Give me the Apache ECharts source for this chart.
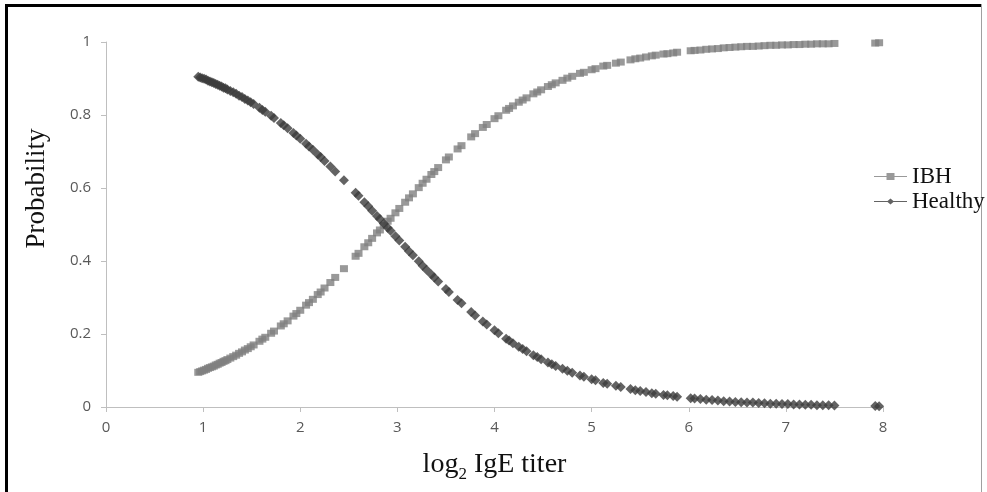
<!DOCTYPE html>
<html>
<head>
<meta charset="utf-8">
<script src="https://cdn.jsdelivr.net/npm/echarts@6/dist/echarts.min.js"></script>
<style>
  html, body { margin: 0; padding: 0; background: #fff; }
  #chart { width: 987px; height: 492px; }
</style>
</head>
<body>
<div id="chart"></div>
<script>
// log2 IgE titer of each observation
const titer = [
  0.95, 0.97, 0.99, 1.01, 1.03, 1.05, 1.07, 1.09, 1.11, 1.13, 1.15, 1.17, 1.19, 1.21, 1.23, 1.25,
  1.28, 1.31, 1.34, 1.37, 1.40, 1.43, 1.46, 1.49, 1.52, 1.58, 1.61, 1.64, 1.70, 1.73, 1.80, 1.83,
  1.87, 1.93, 1.96, 2.00, 2.06, 2.09, 2.13, 2.18, 2.21, 2.25, 2.31, 2.36, 2.45, 2.57, 2.60, 2.66,
  2.70, 2.74, 2.79, 2.82, 2.86, 2.90, 2.93, 2.98, 3.02, 3.08, 3.12, 3.16, 3.22, 3.26, 3.30, 3.35,
  3.38, 3.42, 3.50, 3.53, 3.62, 3.66, 3.76, 3.80, 3.88, 3.92, 4.00, 4.04, 4.12, 4.15, 4.19, 4.25,
  4.29, 4.33, 4.40, 4.44, 4.48, 4.55, 4.59, 4.63, 4.70, 4.75, 4.80, 4.88, 4.92, 5.00, 5.04, 5.12,
  5.16, 5.25, 5.30, 5.40, 5.45, 5.50, 5.56, 5.62, 5.66, 5.74, 5.78, 5.84, 5.88, 6.02, 6.06, 6.12,
  6.18, 6.24, 6.30, 6.36, 6.42, 6.48, 6.54, 6.60, 6.66, 6.72, 6.78, 6.84, 6.90, 6.96, 7.02, 7.08,
  7.14, 7.20, 7.26, 7.32, 7.38, 7.44, 7.50, 7.92, 7.96
];

// Probability of being healthy
const healthy = [
  0.905, 0.903, 0.901, 0.899, 0.897, 0.894, 0.892, 0.890, 0.888, 0.885, 0.883, 0.880, 0.878, 0.875, 0.873, 0.870,
  0.866, 0.862, 0.858, 0.853, 0.849, 0.844, 0.840, 0.835, 0.830, 0.820, 0.814, 0.809, 0.798, 0.792, 0.778, 0.772,
  0.764, 0.751, 0.744, 0.735, 0.721, 0.714, 0.705, 0.692, 0.685, 0.674, 0.659, 0.645, 0.621, 0.587, 0.579, 0.561,
  0.550, 0.538, 0.523, 0.515, 0.503, 0.491, 0.483, 0.468, 0.456, 0.439, 0.427, 0.416, 0.399, 0.387, 0.376, 0.363,
  0.355, 0.344, 0.323, 0.315, 0.293, 0.284, 0.260, 0.251, 0.234, 0.226, 0.210, 0.202, 0.187, 0.182, 0.175, 0.165,
  0.159, 0.153, 0.142, 0.137, 0.131, 0.122, 0.117, 0.112, 0.105, 0.099, 0.094, 0.086, 0.083, 0.076, 0.073, 0.066,
  0.064, 0.058, 0.055, 0.049, 0.046, 0.044, 0.041, 0.038, 0.036, 0.033, 0.032, 0.030, 0.028, 0.024, 0.023, 0.022,
  0.020, 0.019, 0.018, 0.016, 0.015, 0.014, 0.013, 0.012, 0.012, 0.011, 0.010, 0.009, 0.009, 0.008, 0.008, 0.007,
  0.007, 0.006, 0.006, 0.005, 0.005, 0.005, 0.004, 0.003, 0.002
];

// Probability of IBH
const ibh = [
  0.095, 0.097, 0.099, 0.101, 0.103, 0.106, 0.108, 0.110, 0.112, 0.115, 0.117, 0.120, 0.122, 0.125, 0.127, 0.130,
  0.134, 0.138, 0.142, 0.147, 0.151, 0.156, 0.160, 0.165, 0.170, 0.180, 0.186, 0.191, 0.202, 0.208, 0.222, 0.228,
  0.236, 0.249, 0.256, 0.265, 0.279, 0.286, 0.295, 0.308, 0.315, 0.326, 0.341, 0.355, 0.379, 0.413, 0.421, 0.439,
  0.450, 0.462, 0.477, 0.485, 0.497, 0.509, 0.517, 0.532, 0.544, 0.561, 0.573, 0.584, 0.601, 0.613, 0.624, 0.637,
  0.645, 0.656, 0.677, 0.685, 0.707, 0.716, 0.740, 0.749, 0.766, 0.774, 0.790, 0.798, 0.813, 0.818, 0.825, 0.835,
  0.841, 0.847, 0.858, 0.863, 0.869, 0.878, 0.883, 0.888, 0.895, 0.901, 0.906, 0.914, 0.917, 0.924, 0.927, 0.934,
  0.936, 0.942, 0.945, 0.951, 0.954, 0.956, 0.959, 0.962, 0.964, 0.967, 0.968, 0.970, 0.972, 0.976, 0.977, 0.978,
  0.980, 0.981, 0.982, 0.984, 0.985, 0.986, 0.987, 0.988, 0.988, 0.989, 0.990, 0.991, 0.991, 0.992, 0.992, 0.993,
  0.993, 0.994, 0.994, 0.995, 0.995, 0.995, 0.996, 0.997, 0.998
];

const pairs = (xs, ys) => xs.map((x, i) => [x, ys[i]]);

const chart = echarts.init(document.getElementById('chart'), null, { renderer: 'canvas' });

const tickFont = { color: '#595959', fontSize: 15, fontFamily: '"Open Sans", "Liberation Sans", sans-serif' };
const serif = '"Liberation Serif", "DejaVu Serif", serif';

chart.setOption({
  backgroundColor: '#ffffff',
  animation: false,
  grid: { left: 106, top: 42, width: 777, height: 365 },
  xAxis: {
    type: 'value',
    min: 0, max: 8, interval: 1,
    splitLine: { show: false },
    axisLine: { lineStyle: { color: '#bfbfbf', width: 1 } },
    axisTick: { show: true, length: 5, lineStyle: { color: '#bfbfbf' } },
    axisLabel: Object.assign({ margin: 13 }, tickFont),
    name: '{n|log}{s|2}{n| IgE titer}',
    nameLocation: 'middle',
    nameGap: 44,
    nameTextStyle: {
      rich: {
        n: { fontFamily: serif, fontSize: 28, color: '#111' },
        s: { fontFamily: serif, fontSize: 17, color: '#111', verticalAlign: 'bottom', padding: [0, 0, -4, 0] }
      }
    }
  },
  yAxis: {
    type: 'value',
    min: 0, max: 1, interval: 0.2,
    splitLine: { show: false },
    axisLine: { show: true, lineStyle: { color: '#bfbfbf', width: 1 } },
    axisTick: { show: true, length: 5, lineStyle: { color: '#bfbfbf' } },
    axisLabel: Object.assign({ margin: 15, formatter: v => String(Math.round(v * 10) / 10) }, tickFont),
    name: 'Probability',
    nameLocation: 'middle',
    nameGap: 56,
    // the title sits a little above the middle of the axis
    nameTextStyle: { fontFamily: serif, fontSize: 27, color: '#111', padding: [0, 0, 0, 72] }
  },
  legend: {
    orient: 'vertical',
    left: 869,
    top: 160,
    itemGap: 2,
    itemWidth: 33,
    itemHeight: 10,
    textStyle: { fontFamily: serif, fontSize: 23, color: '#111' },
    data: [
      { name: 'IBH', icon: 'path://M0,4.4H33V5.6H0Z M12.5,1.5H20.5V8.5H12.5Z' },
      { name: 'Healthy', icon: 'path://M0,4.4H33V5.6H0Z M16.5,2L20,5L16.5,8L13,5Z' }
    ]
  },
  series: [
    {
      name: 'IBH',
      type: 'scatter',
      symbol: 'rect',
      symbolSize: [8, 7],
      itemStyle: { color: '#808080' },
      data: pairs(titer, ibh),
      z: 2
    },
    {
      name: 'Healthy',
      type: 'scatter',
      symbol: 'diamond',
      symbolSize: [10, 10],
      itemStyle: { color: '#3c3c3c' },
      data: pairs(titer, healthy),
      z: 3
    }
  ],
  graphic: [
    // outer frame of the figure
    { type: 'rect', shape: { x: 5, y: 4, width: 3, height: 492 }, style: { fill: '#000' }, silent: true },
    { type: 'rect', shape: { x: 5, y: 4, width: 977, height: 3 }, style: { fill: '#000' }, silent: true },
    { type: 'line', shape: { x1: 981.5, y1: 4, x2: 981.5, y2: 492 }, style: { stroke: '#a0a0a0', lineWidth: 1 }, silent: true }
  ]
});
</script>
</body>
</html>
